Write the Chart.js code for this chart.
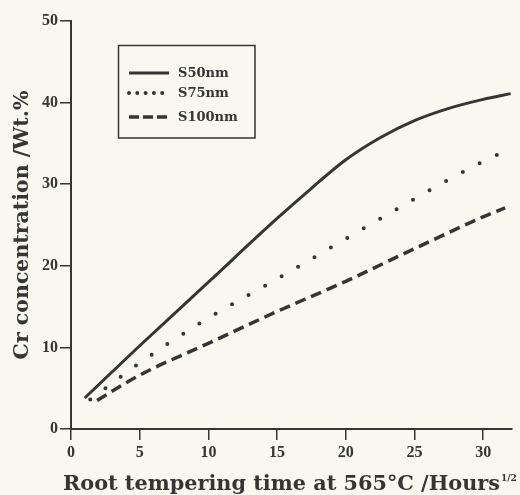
<!DOCTYPE html>
<html>
<head>
<meta charset="utf-8">
<script src="https://cdn.jsdelivr.net/npm/chart.js@4/dist/chart.umd.min.js"></script>
<style>
  html, body { margin: 0; padding: 0; background: #f8f7f0; }
  #chart { display: block; }
</style>
</head>
<body>
<canvas id="chart" width="520" height="495"></canvas>
<script>
var chart;

// Data -----------------------------------------------------------------------------------

var seriesLabels = ['S50nm', 'S75nm', 'S100nm'];

var s50X = [1, 5, 10, 15, 17.5, 20, 22.5, 25, 27.5, 30, 32];
var s50Y = [3.8, 10.2, 18.0, 25.8, 29.5, 33.0, 35.7, 37.8, 39.3, 40.4, 41.1];

var s75X = [1.4, 5, 10, 15, 20, 25, 30, 31.3];
var s75Y = [3.6, 8.1, 13.6, 18.4, 23.3, 28.2, 32.8, 33.8];

var s100X = [1.9, 5, 10, 15, 20, 25, 30, 31.6];
var s100Y = [3.5, 6.6, 10.5, 14.4, 18.1, 22.1, 26.0, 27.1];

var xTickValues = [0, 5, 10, 15, 20, 25, 30];
var yTickValues = [0, 10, 20, 30, 40, 50];

var X_TITLE = 'Root tempering time at 565\u00B0C /Hours';
var X_TITLE_SUP = '1/2';
var Y_TITLE = 'Cr concentration /Wt.%';

// Constants ------------------------------------------------------------------------------

var INK = '#353535';
var BG = '#f8f7f0';
var TICK_FONT = { family: 'Liberation Serif', size: 16, weight: 'bold' };
var Y_TITLE_FONT = { family: 'DejaVu Serif', size: 20.5, weight: 'bold', lineHeight: 1.2 };
var X_TITLE_FONT = 'bold 21px "DejaVu Serif"';
var X_TITLE_MAX_W = 437;
var SUP_FONT = 'bold 9px "DejaVu Serif"';
var LEGEND_FONT = 'bold 13px "DejaVu Serif"';

// Functions ------------------------------------------------------------------------------

function toPoints(xs, ys) {
    var pts = [];
    for (var i = 0; i < xs.length; i++) {
        pts.push({ x: xs[i], y: ys[i] });
    }
    return pts;
}

function pickTicks(values) {
    return function (scale) {
        scale.ticks = values.map(function (v) { return { value: v }; });
    };
}

var bgPlugin = {
    id: 'bg',
    beforeDraw: function (c) {
        var ctx = c.ctx;
        ctx.save();
        ctx.fillStyle = BG;
        ctx.fillRect(0, 0, c.width, c.height);
        ctx.restore();
    }
};

// legend box inside the plot + x title with its 1/2 exponent
var extrasPlugin = {
    id: 'extras',
    afterDraw: function (c) {
        var ctx = c.ctx;
        var legendDash = [[], [0, 8.3], [10, 4]];
        ctx.save();

        ctx.strokeStyle = INK;
        ctx.lineWidth = 1.5;
        ctx.strokeRect(118.5, 45.5, 136.5, 92.5);

        var rowsY = [73, 93, 117];
        c.data.datasets.forEach(function (ds, i) {
            ctx.beginPath();
            ctx.setLineDash(legendDash[i]);
            ctx.lineCap = i === 1 ? 'round' : 'butt';
            ctx.lineWidth = ds.borderWidth;
            ctx.strokeStyle = ds.borderColor;
            ctx.moveTo(129, rowsY[i]);
            ctx.lineTo(169, rowsY[i]);
            ctx.stroke();

            ctx.setLineDash([]);
            ctx.fillStyle = INK;
            ctx.font = LEGEND_FONT;
            ctx.textBaseline = 'middle';
            ctx.textAlign = 'left';
            ctx.fillText(ds.label, 178, rowsY[i] + 1);
        });

        var xs = c.scales.x;
        var baseY = xs.bottom - 5;
        ctx.fillStyle = INK;
        ctx.textAlign = 'left';
        ctx.textBaseline = 'alphabetic';
        ctx.font = X_TITLE_FONT;
        var w = Math.min(ctx.measureText(X_TITLE).width, X_TITLE_MAX_W);
        ctx.fillText(X_TITLE, 63, baseY, X_TITLE_MAX_W);
        ctx.font = SUP_FONT;
        ctx.fillText(X_TITLE_SUP, 63 + w + 1, baseY - 9);

        ctx.restore();
    }
};

function initChart() {
    var context = document.getElementById('chart').getContext('2d');

    chart = new Chart(context, {
        type: 'line',
        data: {
            datasets: [{
                label: seriesLabels[0],
                data: toPoints(s50X, s50Y),
                borderColor: INK,
                borderWidth: 3,
                pointRadius: 0,
                cubicInterpolationMode: 'monotone'
            }, {
                label: seriesLabels[1],
                data: toPoints(s75X, s75Y),
                borderColor: INK,
                borderWidth: 4,
                borderDash: [0, 19],
                borderCapStyle: 'round',
                pointRadius: 0,
                cubicInterpolationMode: 'monotone'
            }, {
                label: seriesLabels[2],
                data: toPoints(s100X, s100Y),
                borderColor: INK,
                borderWidth: 3.5,
                borderDash: [11, 6],
                pointRadius: 0,
                cubicInterpolationMode: 'monotone'
            }]
        },
        options: {
            responsive: false,
            animation: false,
            devicePixelRatio: 1,
            layout: { padding: { left: 0, right: 8, top: 21, bottom: 0 } },
            plugins: {
                legend: { display: false },
                tooltip: { enabled: false }
            },
            scales: {
                x: {
                    type: 'linear',
                    min: 0,
                    max: 32.1,
                    afterBuildTicks: pickTicks(xTickValues),
                    afterFit: function (s) { s.height = 66; },
                    ticks: { font: TICK_FONT, color: INK, padding: 3, maxRotation: 0 },
                    grid: { drawOnChartArea: false, tickLength: 11, color: INK, lineWidth: 1.5 },
                    border: { color: INK, width: 2 },
                    title: { display: false }
                },
                y: {
                    type: 'linear',
                    min: 0,
                    max: 50,
                    afterBuildTicks: pickTicks(yTickValues),
                    afterFit: function (s) { s.width = 71; },
                    ticks: { font: TICK_FONT, color: INK, padding: 2 },
                    grid: { drawOnChartArea: false, tickLength: 11, color: INK, lineWidth: 1.5 },
                    border: { color: INK, width: 2 },
                    title: {
                        display: true,
                        text: Y_TITLE,
                        color: INK,
                        font: Y_TITLE_FONT,
                        padding: { top: 10, bottom: 0 }
                    }
                }
            }
        },
        plugins: [bgPlugin, extrasPlugin]
    });
}

initChart();
</script>
</body>
</html>
